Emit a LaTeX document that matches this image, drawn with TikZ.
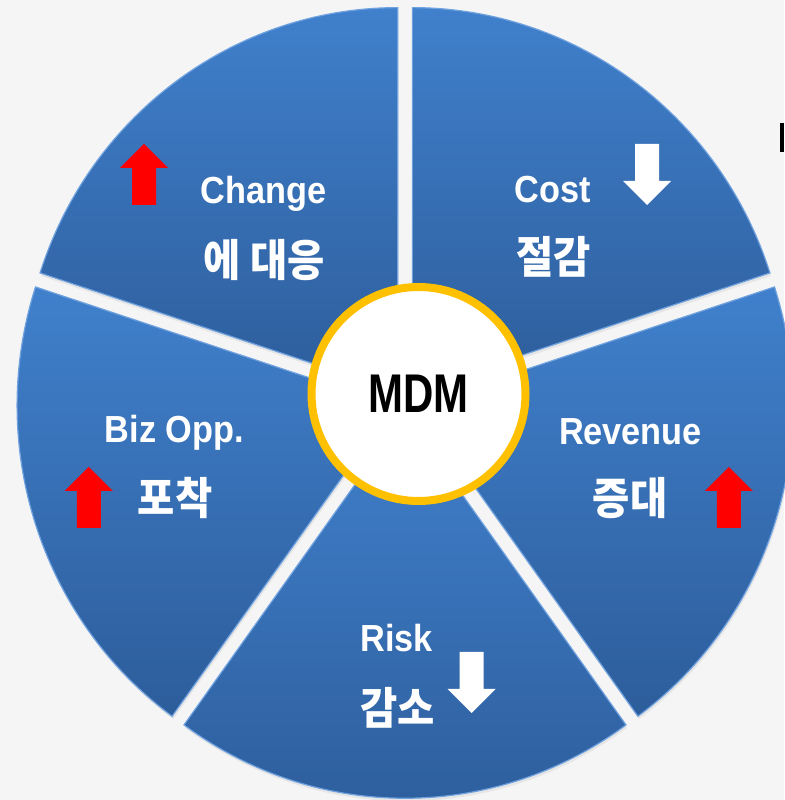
\documentclass[tikz,border=0pt]{standalone}
\usepackage{fontspec}
\setmainfont{Liberation Sans}
\newfontfamily\lblfont[FakeStretch=0.91]{Liberation Sans Bold}
\newfontfamily\hubfont[FakeStretch=0.77]{Liberation Sans Bold}
\newfontfamily\krfont[FakeStretch=0.92]{Noto Sans CJK KR}
\usetikzlibrary{shadows}

\definecolor{wtop}{RGB}{64,128,204}
\definecolor{wbot}{RGB}{45,93,155}
\definecolor{wedge}{RGB}{112,162,224}
\definecolor{hubring}{RGB}{255,192,0}
\definecolor{upred}{RGB}{255,0,0}
\definecolor{bggray}{RGB}{245,245,245}

\tikzset{
  slice/.style={top color=wtop, bottom color=wbot, draw=wedge, line width=1.2pt,
    drop shadow={shadow xshift=1pt, shadow yshift=-3pt, opacity=0.12}},
  lbl/.style={text=white, anchor=base, inner sep=0pt,
    font=\lblfont\fontsize{37.7}{40}\selectfont},
  kr/.style={text=white, anchor=base, inner sep=0pt,
    font=\krfont\bfseries\fontsize{44}{46}\selectfont},
  hub/.style={circle, draw=hubring, line width=8pt, fill=white, minimum size=214pt,
    inner sep=0pt, font=\hubfont\fontsize{54.5}{56}\selectfont},
  blockarrow/.pic={
    \path[pic actions] (-12,0) -- (-12,37) -- (-24,37) -- (0,61) -- (24,37)
      -- (12,37) -- (12,0) -- cycle;
  }
}

\begin{document}
\begin{tikzpicture}[x=1pt, y=1pt]

    \fill[bggray] (0,0) rectangle (784,800);
    \useasboundingbox (0,0) rectangle (784,800);

    % five slices, pulled apart
    \path[slice, shift={(54:12.5pt)}] (405,398.25) -- ++(18:376pt and 384pt)
      arc[start angle=18, end angle=90, x radius=376pt, y radius=384pt] -- cycle;
    \path[slice, shift={(126:12.5pt)}] (405,398.25) -- ++(90:376pt and 384pt)
      arc[start angle=90, end angle=162, x radius=376pt, y radius=384pt] -- cycle;
    \path[slice, shift={(198:12.5pt)}] (405,398.25) -- ++(162:376pt and 384pt)
      arc[start angle=162, end angle=234, x radius=376pt, y radius=384pt] -- cycle;
    \path[slice, shift={(270:12.5pt)}] (405,398.25) -- ++(234:376pt and 384pt)
      arc[start angle=234, end angle=306, x radius=376pt, y radius=384pt] -- cycle;
    \path[slice, shift={(342:12.5pt)}] (405,398.25) -- ++(306:376pt and 384pt)
      arc[start angle=306, end angle=378, x radius=376pt, y radius=384pt] -- cycle;

    \node[hub] (mdm) at (418.5,406) {MDM};

    \node[lbl] (chg) at (263.5,596) {Change};
    \node[kr] (chgk) at (264,523) {에 대응};
    \pic[fill=upred] at (144,595) {blockarrow};

    \node[lbl] (cost) at (553,597) {Cost};
    \node[kr] (costk) at (553.5,526) {절감};
    \pic[fill=white, rotate=180] at (647,656) {blockarrow};

    \node[lbl] (biz) at (174.5,357) {Biz Opp.};
    \node[kr] (bizk) at (175,285) {포착};
    \pic[fill=upred] at (88.75,272) {blockarrow};

    \node[lbl] (rev) at (630.5,355) {Revenue};
    \node[kr] (revk) at (630,285) {증대};
    \pic[fill=upred] at (728.75,272) {blockarrow};

    \node[lbl] (risk) at (396.5,148) {Risk};
    \node[kr] (riskk) at (397.5,75) {감소};
    \pic[fill=white, rotate=180] at (471.5,148) {blockarrow};

    \fill (779.5,648) rectangle (784,677);

\end{tikzpicture}
\end{document}
